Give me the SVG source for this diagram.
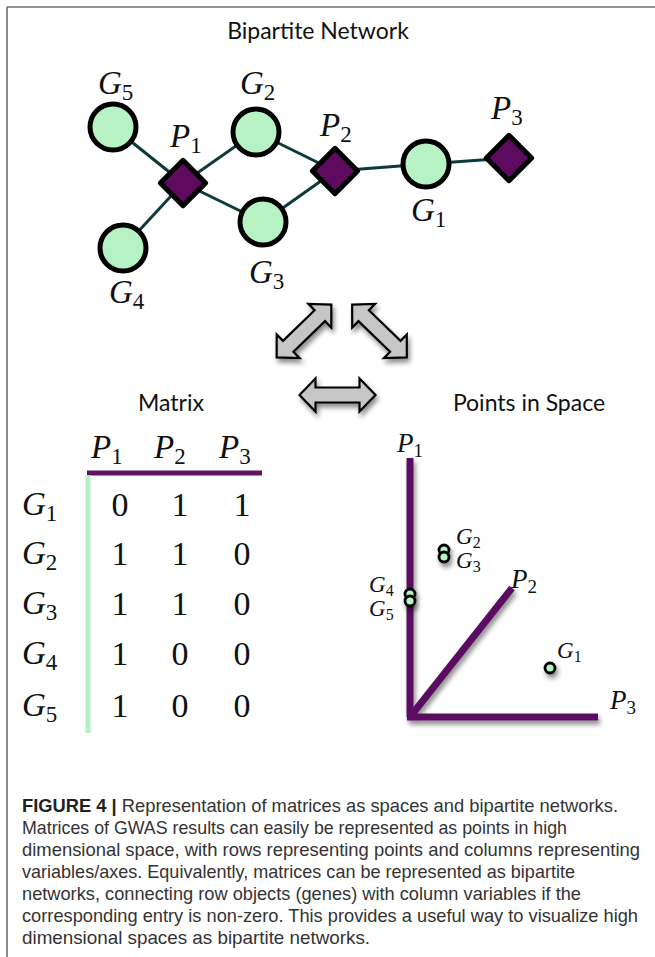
<svg xmlns="http://www.w3.org/2000/svg" width="655" height="957" viewBox="0 0 655 957">
<style>
.frame{stroke:#6e6e6e;stroke-width:1.6;fill:none}
.edge{stroke:#0f3a3a;stroke-width:3;fill:none}
.gene{fill:#b6f2c4;stroke:#000;stroke-width:5}
.pheno{fill:#5e0a5e;stroke:#000;stroke-width:5;stroke-linejoin:round}
.math{font-family:"Liberation Serif","Times New Roman",serif;font-style:italic;fill:#111}
.sub{font-style:normal}
.big{font-size:33px}
.big .sub{font-size:23px}
.mid{font-size:27px}
.mid .sub{font-size:19px}
.small{font-size:23px}
.small .sub{font-size:16px}
.num{font-family:"Liberation Serif","Times New Roman",serif;font-size:34px;fill:#111;text-anchor:middle}
.title{font-family:Lato,"Open Sans",sans-serif;font-size:23px;fill:#111;text-anchor:middle}
.arrow{fill:#c6c6c6;stroke:#000;stroke-width:2.2;stroke-linejoin:miter}
.axis{stroke:#5a1060;stroke-width:7;fill:none;stroke-linecap:butt}
.pt{fill:#b6f2c4;stroke:#000;stroke-width:2.8}
.cap{font-family:"Liberation Sans",Arial,sans-serif;font-size:18.5px;fill:#333}
.capb{font-weight:bold;fill:#222}
</style>
<defs>
<filter id="shadow" x="-30%" y="-30%" width="160%" height="160%">
<feGaussianBlur in="SourceAlpha" stdDeviation="2.5"/>
<feOffset dx="2" dy="4" result="b"/>
<feComponentTransfer><feFuncA type="linear" slope="0.45"/></feComponentTransfer>
<feMerge><feMergeNode/><feMergeNode in="SourceGraphic"/></feMerge>
</filter>
<path id="dbl" d="M-38,0 L-22,-16.5 L-22,-7.5 L22,-7.5 L22,-16.5 L38,0 L22,16.5 L22,7.5 L-22,7.5 L-22,16.5 Z"/>
</defs>

<g id="frame">
<line class="frame" x1="7" y1="7" x2="655" y2="7"/>
<line class="frame" x1="7" y1="7" x2="7" y2="957"/>
</g>

<text class="title" x="318" y="39">Bipartite Network</text>
<text class="title" x="171" y="411">Matrix</text>
<text class="title" x="529" y="411">Points in Space</text>

<g id="connectors">
<line class="edge" x1="113" y1="127" x2="183" y2="183"/>
<line class="edge" x1="183" y1="183" x2="256" y2="132"/>
<line class="edge" x1="183" y1="183" x2="263" y2="222"/>
<line class="edge" x1="183" y1="183" x2="123" y2="248"/>
<line class="edge" x1="256" y1="132" x2="335" y2="171"/>
<line class="edge" x1="263" y1="222" x2="335" y2="171"/>
<line class="edge" x1="335" y1="171" x2="426" y2="164"/>
<line class="edge" x1="426" y1="164" x2="509" y2="158"/>
</g>

<g id="G5"><circle class="gene" cx="113" cy="127" r="23"/><text class="math big" x="98" y="94">G<tspan class="sub" dy="6">5</tspan></text></g>
<g id="G2"><circle class="gene" cx="256" cy="132" r="23"/><text class="math big" x="240" y="94">G<tspan class="sub" dy="6">2</tspan></text></g>
<g id="P1"><rect class="pheno" x="167" y="167" width="32" height="32" transform="rotate(45 183 183)"/><text class="math big" x="170" y="147">P<tspan class="sub" dy="6">1</tspan></text></g>
<g id="G3"><circle class="gene" cx="263" cy="222" r="23"/><text class="math big" x="249" y="283">G<tspan class="sub" dy="6">3</tspan></text></g>
<g id="G4"><circle class="gene" cx="123" cy="248" r="23"/><text class="math big" x="109" y="303">G<tspan class="sub" dy="6">4</tspan></text></g>
<g id="P2"><rect class="pheno" x="319" y="155" width="32" height="32" transform="rotate(45 335 171)"/><text class="math big" x="320" y="136">P<tspan class="sub" dy="6">2</tspan></text></g>
<g id="G1"><circle class="gene" cx="426" cy="164" r="23"/><text class="math big" x="411" y="221">G<tspan class="sub" dy="6">1</tspan></text></g>
<g id="P3"><rect class="pheno" x="493" y="142" width="32" height="32" transform="rotate(45 509 158)"/><text class="math big" x="491" y="119">P<tspan class="sub" dy="6">3</tspan></text></g>

<g id="arrows" filter="url(#shadow)">
<use href="#dbl" class="arrow" transform="translate(304 331) rotate(-44)"/>
<use href="#dbl" class="arrow" transform="translate(379.5 331) rotate(44)"/>
<use href="#dbl" class="arrow" transform="translate(337.5 395)"/>
</g>

<g id="matrix">
<text class="math big" x="91" y="458">P<tspan class="sub" dy="6">1</tspan></text>
<text class="math big" x="154" y="458">P<tspan class="sub" dy="6">2</tspan></text>
<text class="math big" x="219" y="458">P<tspan class="sub" dy="6">3</tspan></text>
<line x1="87" y1="473" x2="262" y2="473" stroke="#5e1460" stroke-width="5"/>
<line x1="88" y1="475" x2="88" y2="733" stroke="#b3f0c5" stroke-width="5"/>
<text class="math big" x="22" y="515">G<tspan class="sub" dy="6">1</tspan></text>
<text class="math big" x="22" y="564">G<tspan class="sub" dy="6">2</tspan></text>
<text class="math big" x="22" y="614">G<tspan class="sub" dy="6">3</tspan></text>
<text class="math big" x="22" y="664">G<tspan class="sub" dy="6">4</tspan></text>
<text class="math big" x="22" y="716">G<tspan class="sub" dy="6">5</tspan></text>
<text class="num" x="120" y="516">0</text><text class="num" x="180" y="516">1</text><text class="num" x="242" y="516">1</text>
<text class="num" x="120" y="565">1</text><text class="num" x="180" y="565">1</text><text class="num" x="242" y="565">0</text>
<text class="num" x="120" y="615">1</text><text class="num" x="180" y="615">1</text><text class="num" x="242" y="615">0</text>
<text class="num" x="120" y="665">1</text><text class="num" x="180" y="665">0</text><text class="num" x="242" y="665">0</text>
<text class="num" x="120" y="717">1</text><text class="num" x="180" y="717">0</text><text class="num" x="242" y="717">0</text>
</g>

<g id="space">
<g filter="url(#shadow)">
<line class="axis" x1="410" y1="458" x2="410" y2="717"/>
<line class="axis" x1="407" y1="717" x2="598" y2="717"/>
<line class="axis" x1="410" y1="717" x2="512" y2="588"/>
</g>
<text class="math mid" x="397" y="452">P<tspan class="sub" dy="5">1</tspan></text>
<text class="math mid" x="511" y="588">P<tspan class="sub" dy="5">2</tspan></text>
<text class="math mid" x="610" y="709">P<tspan class="sub" dy="5">3</tspan></text>
<g filter="url(#shadow)">
<circle class="pt" cx="444" cy="550" r="5"/>
<circle class="pt" cx="444" cy="557" r="5"/>
<circle class="pt" cx="410" cy="594" r="5"/>
<circle class="pt" cx="410" cy="601" r="5"/>
<circle class="pt" cx="550" cy="668" r="5"/>
</g>
<text class="math small" x="456" y="544">G<tspan class="sub" dy="4">2</tspan></text>
<text class="math small" x="456" y="568">G<tspan class="sub" dy="4">3</tspan></text>
<text class="math small" x="369" y="592">G<tspan class="sub" dy="4">4</tspan></text>
<text class="math small" x="369" y="616">G<tspan class="sub" dy="4">5</tspan></text>
<text class="math small" x="557" y="658">G<tspan class="sub" dy="4">1</tspan></text>
</g>

<g id="caption" class="cap">
<text x="22" y="812" textLength="596" lengthAdjust="spacingAndGlyphs"><tspan class="capb">FIGURE 4 |</tspan> Representation of matrices as spaces and bipartite networks.</text>
<text x="22" y="834" textLength="545" lengthAdjust="spacingAndGlyphs">Matrices of GWAS results can easily be represented as points in high</text>
<text x="22" y="856" textLength="618" lengthAdjust="spacingAndGlyphs">dimensional space, with rows representing points and columns representing</text>
<text x="22" y="878" textLength="553" lengthAdjust="spacingAndGlyphs">variables/axes. Equivalently, matrices can be represented as bipartite</text>
<text x="22" y="900" textLength="559" lengthAdjust="spacingAndGlyphs">networks, connecting row objects (genes) with column variables if the</text>
<text x="22" y="922" textLength="616" lengthAdjust="spacingAndGlyphs">corresponding entry is non-zero. This provides a useful way to visualize high</text>
<text x="22" y="944" textLength="348" lengthAdjust="spacingAndGlyphs">dimensional spaces as bipartite networks.</text>
</g>
</svg>
